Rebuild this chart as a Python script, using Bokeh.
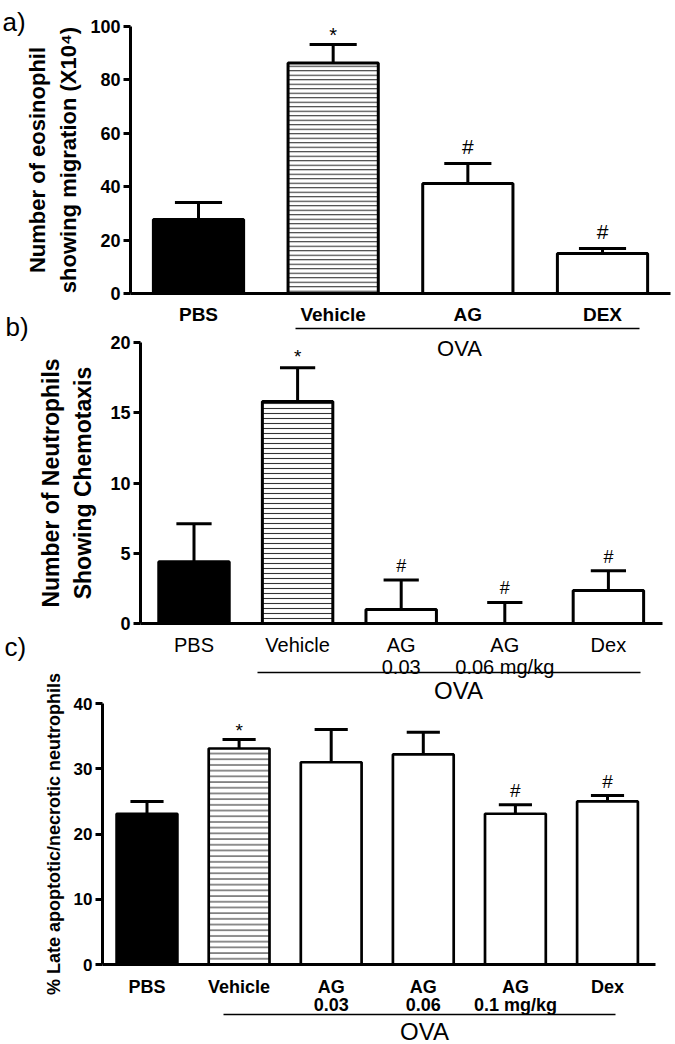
import numpy as np
from bokeh.plotting import figure
from bokeh.models import ColumnDataSource, FixedTicker, Range1d, Label, Arrow, LinearAxis
from bokeh.layouts import column
from bokeh.embed import file_html
from bokeh.resources import INLINE
from bokeh.core.properties import value

FONT = "Liberation Sans"
W = 675

# ---------------- data ----------------
# panel a
cats_a = ["PBS", "Vehicle", "AG", "DEX"]
mean_a = [27.7, 86.3, 41.2, 15.0]
sem_a = [6.4, 7.0, 7.5, 1.9]
sig_a = ["", "*", "#", "#"]
yticks_a = [0, 20, 40, 60, 80, 100]
ylabel_a = "Number of eosinophil\nshowing migration (X10\u2074)"

# panel b
cats_b = ["PBS", "Vehicle", "AG\n0.03", "AG\n0.06 mg/kg", "Dex"]
mean_b = [4.4, 15.8, 1.0, 0.0, 2.35]
sem_b = [2.7, 2.4, 2.1, 1.5, 1.4]
sig_b = ["", "*", "#", "#", "#"]
yticks_b = [0, 5, 10, 15, 20]
ylabel_b = "Number of Neutrophils\nShowing Chemotaxis"

# panel c
cats_c = ["PBS", "Vehicle", "AG\n0.03", "AG\n0.06", "AG\n0.1 mg/kg", "Dex"]
mean_c = [23.1, 33.1, 31.0, 32.2, 23.1, 25.0]
sem_c = [1.9, 1.4, 5.0, 3.4, 1.4, 0.9]
sig_c = ["", "*", "", "", "#", "#"]
yticks_c = [0, 10, 20, 30, 40]
ylabel_c = "% Late apoptotic/necrotic neutrophils"

group_label = "OVA"


def px_to_x(px, g):
    return (px - g["c0"]) / g["sp"]


def py_to_y(py, g):
    return (g["zero"] - py) / g["s"]


def make_panel(cats, means, sems, sigs, yticks, ylabel, tag, g):
    n = len(cats)
    xs = list(range(n))
    top_pg, h = g["top"], g["height"]
    p = figure(width=W, height=h, output_backend="svg", toolbar_location=None,
               x_range=Range1d(px_to_x(0, g), px_to_x(W, g)),
               y_range=Range1d(py_to_y(top_pg + h, g), py_to_y(top_pg, g)),
               x_axis_location=None, y_axis_location=None, min_border=0)
    p.border_fill_color = None
    p.background_fill_color = None
    p.outline_line_color = None
    p.grid.visible = False

    x_left = px_to_x(g["axl"], g)
    x_right = px_to_x(g["axr"], g)

    fills = ["black" if i == 0 else "white" for i in xs]
    hatches = ["-" if i == 1 else " " for i in xs]
    src = ColumnDataSource(dict(x=xs, top=means, fill=fills, hatch=hatches))
    p.vbar(x="x", top="top", bottom=0, width=g["bw"], source=src,
           fill_color="fill", line_color="black", line_width=g["lw"],
           hatch_pattern="hatch", hatch_color="#333333",
           hatch_scale=g["hs"], hatch_weight=1.1)

    tops = [m + s for m, s in zip(means, sems)]
    p.segment(x0=xs, y0=means, x1=xs, y1=tops, line_color="black", line_width=3)
    cw = g["cw"]
    p.segment(x0=[x - cw for x in xs], y0=tops, x1=[x + cw for x in xs], y1=tops,
              line_color="black", line_width=3)

    for mark, size, off in (("*", g["star_size"], g["star_off"]),
                            ("#", g["hash_size"], g["hash_off"])):
        idx = [i for i in xs if sigs[i] == mark]
        if idx:
            p.text(x=idx, y=[tops[i] for i in idx], text=[mark] * len(idx),
                   text_font=value(FONT), text_font_size=size,
                   text_align="center", text_baseline="middle",
                   y_offset=off, text_color="black")

    xa = LinearAxis(fixed_location=0, bounds=(x_left, x_right))
    xa.ticker = FixedTicker(ticks=xs)
    xa.major_label_overrides = {i: c for i, c in enumerate(cats)}
    xa.axis_line_width = 3
    xa.axis_line_color = "black"
    xa.major_tick_out = 0
    xa.major_tick_in = 0
    xa.minor_tick_out = 0
    xa.minor_tick_in = 0
    xa.major_label_standoff = g["xstand"]
    xa.major_label_text_font = FONT
    xa.major_label_text_font_size = g["xfs"]
    xa.major_label_text_font_style = g["xstyle"]
    xa.major_label_text_line_height = g["xlh"]
    xa.major_label_text_color = "black"
    p.add_layout(xa, "below")

    ya = LinearAxis(fixed_location=x_left, bounds=(0, yticks[-1]))
    ya.ticker = FixedTicker(ticks=yticks)
    ya.axis_line_width = 3
    ya.axis_line_color = "black"
    ya.major_tick_out = 7
    ya.major_tick_in = 0
    ya.major_tick_line_width = 3
    ya.minor_tick_out = 0
    ya.minor_tick_in = 0
    ya.major_label_standoff = 3
    ya.major_label_text_font = FONT
    ya.major_label_text_font_size = g["yfs"]
    ya.major_label_text_font_style = "bold"
    ya.major_label_text_color = "black"
    ya.axis_label = ylabel
    ya.axis_label_text_font = FONT
    ya.axis_label_text_font_size = g["tfs"]
    ya.axis_label_text_font_style = "bold"
    ya.axis_label_text_line_height = 1.25
    ya.axis_label_standoff = g["tstand"]
    ya.axis_label_text_color = "black"
    p.add_layout(ya, "left")

    # group underline + label
    uy = py_to_y(g["ul_py"], g)
    p.add_layout(Arrow(end=None, x_start=px_to_x(g["ul_px"][0], g),
                       x_end=px_to_x(g["ul_px"][1], g),
                       y_start=uy, y_end=uy, line_color="black", line_width=1.5))
    p.add_layout(Label(x=px_to_x(g["ova_px"], g), y=py_to_y(g["ova_py"], g),
                       text=group_label, text_font=FONT,
                       text_font_size=g["ova_fs"], text_color="black",
                       text_baseline="top", text_align="center"))
    p.add_layout(Label(x=px_to_x(g["tag_px"][0], g), y=py_to_y(g["tag_px"][1], g),
                       text=tag, text_font=FONT, text_font_size="26px",
                       text_color="black", text_baseline="top", text_align="left"))
    return p


# layout geometry in page pixels (positions, scales)
ga = dict(top=0, height=362, c0=198, sp=134.67, zero=293, s=2.67,
          axl=130, axr=670,
          bw=0.67, cw=0.175, lw=3, hs=4.5, star_size="20px", star_off=-9,
          hash_size="21px", hash_off=-17, xstand=10, xfs="19px", xstyle="bold",
          xlh=1.0, yfs="18px", tfs="22px", tstand=6,
          ul_px=(295, 639), ul_py=328, ova_px=459, ova_py=335, ova_fs="22px",
          tag_px=(2, 6))
gb = dict(top=310, height=394, c0=193.5, sp=103.6, zero=623, s=14.05,
          axl=140, axr=662,
          bw=0.68, cw=0.17, lw=3, hs=5, star_size="19px", star_off=-11,
          hash_size="18px", hash_off=-14, xstand=10, xfs="20px", xstyle="normal",
          xlh=1.0, yfs="18px", tfs="23px", tstand=11,
          ul_px=(257, 640), ul_py=672, ova_px=458, ova_py=676, ova_fs="24px",
          tag_px=(5, 311))
gc = dict(top=630, height=414, c0=146.5, sp=92.1, zero=964, s=6.525,
          axl=102, axr=655,
          bw=0.66, cw=0.18, lw=2.7, hs=5.7, star_size="19px", star_off=-9,
          hash_size="19px", hash_off=-14, xstand=12, xfs="18px", xstyle="bold",
          xlh=0.9, yfs="17px", tfs="18px", tstand=7,
          ul_px=(223, 615), ul_py=1014, ova_px=424, ova_py=1017, ova_fs="24px",
          tag_px=(4, 631))

pa = make_panel(cats_a, mean_a, sem_a, sig_a, yticks_a, ylabel_a, "a)", ga)
pb = make_panel(cats_b, mean_b, sem_b, sig_b, yticks_b, ylabel_b, "b)", gb)
pc = make_panel(cats_c, mean_c, sem_c, sig_c, yticks_c, ylabel_c, "c)", gc)

pb.margin = (gb["top"] - (ga["top"] + ga["height"]), 0, 0, 0)
pc.margin = (gc["top"] - (gb["top"] + gb["height"]), 0, 0, 0)

layout = column(pa, pb, pc, spacing=0)
open("out.html", "w").write(file_html(layout, INLINE))
